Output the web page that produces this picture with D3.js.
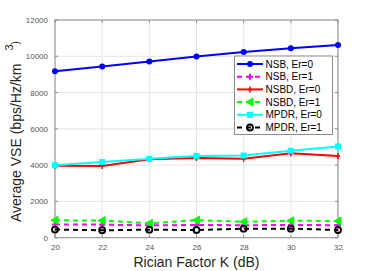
<!DOCTYPE html>
<html><head><meta charset="utf-8">
<script src="https://cdn.jsdelivr.net/npm/d3@7"></script>
<style>body{margin:0;background:#fff}svg{display:block}</style>
</head><body>
<svg id="c" width="374" height="271"></svg>
<script>
const kValues = [20, 22, 24, 26, 28, 30, 32];
const nsbEr0  = [9180, 9440, 9710, 9990, 10230, 10440, 10620];
const nsbEr1  = [730, 720, 680, 700, 690, 700, 690];
const nsbdEr0 = [3960, 3950, 4330, 4400, 4350, 4660, 4500];
const nsbdEr1 = [958, 950, 790, 970, 880, 936, 920];
const mpdrEr0 = [3990, 4170, 4350, 4510, 4530, 4790, 5030];
const mpdrEr1 = [450, 410, 440, 424, 500, 500, 424];
const xTicks = [20, 22, 24, 26, 28, 30, 32];
const yTicks = [0, 2000, 4000, 6000, 8000, 10000, 12000];
const seriesNames = ["NSB, Er=0", "NSB, Er=1", "NSBD, Er=0", "NSBD, Er=1", "MPDR, Er=0", "MPDR, Er=1"];

const series = [
  {name: seriesNames[0], values: nsbEr0, color: "#0000ff", dash: null, marker: "dot"},
  {name: seriesNames[1], values: nsbEr1, color: "#ff00ff", dash: "5,4", marker: "plus"},
  {name: seriesNames[2], values: nsbdEr0, color: "#ff0000", dash: null, marker: "vbar"},
  {name: seriesNames[3], values: nsbdEr1, color: "#00ff00", dash: "5,4", marker: "tri"},
  {name: seriesNames[4], values: mpdrEr0, color: "#00ffff", dash: null, marker: "sq"},
  {name: seriesNames[5], values: mpdrEr1, color: "#000000", dash: "5,4", marker: "ring"}
];

const svg = d3.select("#c");
const L = 55, R = 338, T = 20, B = 237.7;
const x = d3.scaleLinear().domain([20, 32]).range([L, R]);
const y = d3.scaleLinear().domain([0, 12000]).range([B, T]);
const font = "Liberation Sans, Arial, Helvetica, sans-serif";

// grid
const g = svg.append("g");
g.selectAll(".gx").data(xTicks).enter().append("line")
  .attr("x1", d => x(d)).attr("x2", d => x(d)).attr("y1", T).attr("y2", B)
  .attr("stroke", "#e6e6e6").attr("stroke-width", 1);
g.selectAll(".gy").data(yTicks).enter().append("line")
  .attr("y1", d => y(d)).attr("y2", d => y(d)).attr("x1", L).attr("x2", R)
  .attr("stroke", "#e6e6e6").attr("stroke-width", 1);

// axes
const xAxis = d3.axisBottom(x).tickValues(xTicks).tickSize(0).tickPadding(7);
const yAxis = d3.axisLeft(y).tickValues(yTicks).tickSize(0).tickPadding(7).tickFormat(d3.format("d"));
const gx = svg.append("g").attr("transform", `translate(0,${B})`).call(xAxis);
const gy = svg.append("g").attr("transform", `translate(${L},0)`).call(yAxis);
[gx, gy].forEach(a => {
  a.select(".domain").remove();
  a.selectAll("text").attr("font-family", font).attr("font-size", 8).attr("fill", "#555");
});
// box
svg.append("rect").attr("x", L).attr("y", T).attr("width", R - L).attr("height", B - T)
  .attr("fill", "none").attr("stroke", "#8c8c8c").attr("stroke-width", 1);
// ticks inward
svg.selectAll(".tx").data(xTicks).enter().append("line")
  .attr("x1", d => x(d)).attr("x2", d => x(d)).attr("y1", B).attr("y2", B - 3)
  .attr("stroke", "#8c8c8c");
svg.selectAll(".tx2").data(xTicks).enter().append("line")
  .attr("x1", d => x(d)).attr("x2", d => x(d)).attr("y1", T).attr("y2", T + 3)
  .attr("stroke", "#8c8c8c");
svg.selectAll(".ty").data(yTicks).enter().append("line")
  .attr("y1", d => y(d)).attr("y2", d => y(d)).attr("x1", L).attr("x2", L + 3)
  .attr("stroke", "#8c8c8c");
svg.selectAll(".ty2").data(yTicks).enter().append("line")
  .attr("y1", d => y(d)).attr("y2", d => y(d)).attr("x1", R).attr("x2", R - 3)
  .attr("stroke", "#8c8c8c");

function drawMarker(sel, m, color) {
  if (m === "dot") sel.append("circle").attr("r", 3).attr("fill", color);
  else if (m === "plus") sel.append("path").attr("d", "M-3,0H3M0,-3V3").attr("stroke", color).attr("stroke-width", 2);
  else if (m === "vbar") sel.append("path").attr("d", "M0,-3V3M-2,0H2").attr("stroke", color).attr("stroke-width", 1.5);
  else if (m === "tri") sel.append("path").attr("d", "M-4,0L3,-4L3,4Z").attr("fill", color).attr("stroke", color);
  else if (m === "sq") sel.append("rect").attr("x", -3).attr("y", -3).attr("width", 6).attr("height", 6).attr("fill", color);
  else if (m === "ring") sel.append("circle").attr("r", 3).attr("fill", "none").attr("stroke", color).attr("stroke-width", 1.8);
}

const line = d3.line().x((d, i) => x(kValues[i])).y(d => y(d));
series.forEach(s => {
  svg.append("path").datum(s.values).attr("d", line)
    .attr("fill", "none").attr("stroke", s.color).attr("stroke-width", 2)
    .attr("stroke-dasharray", s.dash);
  s.values.forEach((v, i) => {
    const mg = svg.append("g").attr("transform", `translate(${x(kValues[i])},${y(v)})`);
    drawMarker(mg, s.marker, s.color);
  });
});

// legend
const lg = svg.append("g");
lg.append("rect").attr("x", 234.5).attr("y", 56).attr("width", 98).attr("height", 78.5)
  .attr("fill", "#fff").attr("stroke", "#8c8c8c").attr("stroke-width", 1);
series.forEach((s, i) => {
  const yy = 64 + i * 12.7;
  lg.append("line").attr("x1", 237).attr("x2", 263).attr("y1", yy).attr("y2", yy)
    .attr("stroke", s.color).attr("stroke-width", 2).attr("stroke-dasharray", s.dash);
  const mg = lg.append("g").attr("transform", `translate(250,${yy})`);
  drawMarker(mg, s.marker, s.color);
  lg.append("text").attr("x", 265.5).attr("y", yy + 3.6).text(s.name)
    .attr("font-family", font).attr("font-size", 10).attr("fill", "#000");
});

// axis labels
svg.append("text").attr("x", (L + R) / 2).attr("y", 267).attr("text-anchor", "middle")
  .attr("font-family", font).attr("font-size", 14).attr("fill", "#262626")
  .text("Rician Factor K (dB)");
const yl = svg.append("text").attr("transform", "translate(21,222) rotate(-90)")
  .attr("font-family", font).attr("font-size", 14).attr("fill", "#262626");
yl.append("tspan").text("Average VSE (bps/Hz/km");
yl.append("tspan").attr("dx", 13).attr("dy", -8).attr("font-size", 11).text("3");
yl.append("tspan").attr("dy", 6).attr("font-size", 10).text(")");
</script>
</body></html>
